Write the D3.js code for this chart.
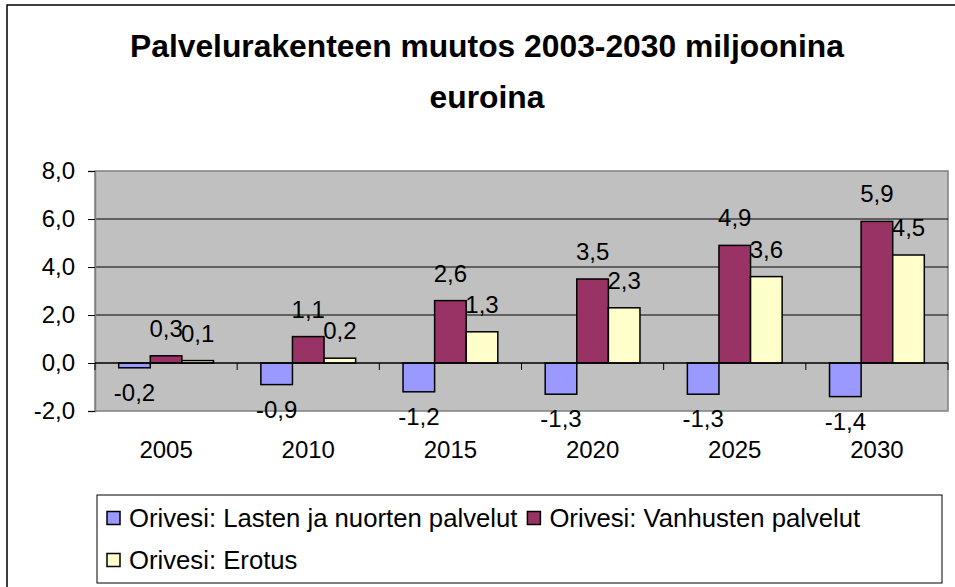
<!DOCTYPE html>
<html>
<head>
<meta charset="utf-8">
<script src="https://cdn.jsdelivr.net/npm/d3@7"></script>
<style>
  html, body { margin: 0; padding: 0; background: #fff; }
  svg { display: block; }
  text { font-family: "Liberation Sans", Arial, sans-serif; }
</style>
</head>
<body>
<svg id="chart" width="955" height="587"></svg>
<script>
// ---- data ----
const years = ["2005", "2010", "2015", "2020", "2025", "2030"];
const seriesNames = ["Orivesi: Lasten ja nuorten palvelut", "Orivesi: Vanhusten palvelut", "Orivesi: Erotus"];
const lasten = [-0.2, -0.9, -1.2, -1.3, -1.3, -1.4];
const vanhusten = [0.3, 1.1, 2.6, 3.5, 4.9, 5.9];
const erotus = [0.1, 0.2, 1.3, 2.3, 3.6, 4.5];
const yTicks = [-2, 0, 2, 4, 6, 8];
const titleLines = ["Palvelurakenteen muutos 2003-2030 miljoonina", "euroina"];
const colors = ["#9999FF", "#993366", "#FFFFCC"];

const seriesValues = [lasten, vanhusten, erotus];
const fmt = v => v.toFixed(1).replace(".", ",");

const svg = d3.select("#chart");

// outer frame
svg.append("rect").attr("x", 7).attr("y", 5).attr("width", 960).attr("height", 600)
  .attr("fill", "#fff").attr("stroke", "#000").attr("stroke-width", 1.5);

// title
svg.append("text").attr("x", 487).attr("y", 57).attr("text-anchor", "middle")
  .attr("font-size", 31.8).attr("font-weight", "bold").text(titleLines[0]);
svg.append("text").attr("x", 487).attr("y", 108).attr("text-anchor", "middle")
  .attr("font-size", 31.8).attr("font-weight", "bold").text(titleLines[1]);

// scales
const pLeft = 95, pRight = 948, pTop = 171, pBottom = 411;
const y = d3.scaleLinear().domain([-2, 8]).range([pBottom, pTop]);
const x0 = d3.scaleBand().domain(years).range([pLeft, pRight]).paddingInner(1/3).paddingOuter(1/6);
const x1 = d3.scaleBand().domain(d3.range(3)).range([0, x0.bandwidth()]);

// plot area
svg.append("rect").attr("x", pLeft).attr("y", pTop).attr("width", pRight - pLeft).attr("height", pBottom - pTop)
  .attr("fill", "#C0C0C0").attr("stroke", "#808080").attr("stroke-width", 1.5);

// gridlines
svg.append("g").selectAll("line").data(yTicks.filter(t => t > -2 && t < 8 && t !== 0)).join("line")
  .attr("x1", pLeft).attr("x2", pRight).attr("y1", d => y(d)).attr("y2", d => y(d))
  .attr("stroke", "#000").attr("stroke-width", 1);

// y axis
const yAxis = svg.append("g").attr("transform", `translate(${pLeft},0)`)
  .call(d3.axisLeft(y).tickValues(yTicks).tickFormat(fmt).tickSize(7).tickPadding(13));
yAxis.select(".domain").attr("stroke", "#808080").attr("stroke-width", 1.5);
yAxis.selectAll(".tick line").attr("stroke", "#000");
yAxis.selectAll(".tick text").attr("font-size", 24).attr("fill", "#000")
  .attr("font-family", "'Liberation Sans', Arial, sans-serif");

// bars
const groups = svg.append("g").selectAll("g").data(years).join("g")
  .attr("transform", d => `translate(${x0(d)},0)`);
groups.selectAll("rect").data((d, i) => seriesValues.map((s, k) => ({k, v: s[i]}))).join("rect")
  .attr("x", d => x1(d.k)).attr("width", x1.bandwidth())
  .attr("y", d => y(Math.max(0, d.v))).attr("height", d => Math.abs(y(d.v) - y(0)))
  .attr("fill", d => colors[d.k]).attr("stroke", "#000").attr("stroke-width", 1.5);

// x axis line at zero with ticks at category boundaries
svg.append("line").attr("x1", pLeft).attr("x2", pRight).attr("y1", y(0)).attr("y2", y(0))
  .attr("stroke", "#000").attr("stroke-width", 1.5);
const step = x0.step();
svg.append("g").selectAll("line").data(d3.range(years.length + 1)).join("line")
  .attr("x1", i => pLeft + i * step).attr("x2", i => pLeft + i * step)
  .attr("y1", y(0)).attr("y2", y(0) + 7).attr("stroke", "#000").attr("stroke-width", 1);

// category labels
svg.append("g").selectAll("text").data(years).join("text")
  .attr("x", d => x0(d) + x0.bandwidth() / 2).attr("y", 458)
  .attr("text-anchor", "middle").attr("font-size", 24).text(d => d);

// data labels
groups.selectAll("text.lbl").data((d, i) => seriesValues.map((s, k) => ({k, v: s[i]}))).join("text")
  .attr("class", "lbl")
  .attr("x", d => x1(d.k) + x1.bandwidth() / 2)
  .attr("y", d => d.v >= 0 ? y(d.v) - 19 : y(d.v) + 33)
  .attr("text-anchor", "middle").attr("font-size", 24).text(d => fmt(d.v));

// legend
const lg = svg.append("g");
lg.append("rect").attr("x", 97).attr("y", 495).attr("width", 845).attr("height", 88)
  .attr("fill", "#fff").attr("stroke", "#000").attr("stroke-width", 1);
const legendFont = 25.7;
const rows = [[0, 1], [2]];
const rowY = [518, 560];
rows.forEach((row, r) => {
  let cx = 107;
  row.forEach(k => {
    lg.append("rect").attr("x", cx).attr("y", rowY[r] - 6.5).attr("width", 13).attr("height", 13)
      .attr("fill", colors[k]).attr("stroke", "#000").attr("stroke-width", 1.5);
    const t = lg.append("text").attr("x", cx + 22).attr("y", rowY[r] + 9)
      .attr("font-size", legendFont).text(seriesNames[k]);
    cx = cx + 22 + t.node().getComputedTextLength() + 10;
  });
});
</script>
</body>
</html>
